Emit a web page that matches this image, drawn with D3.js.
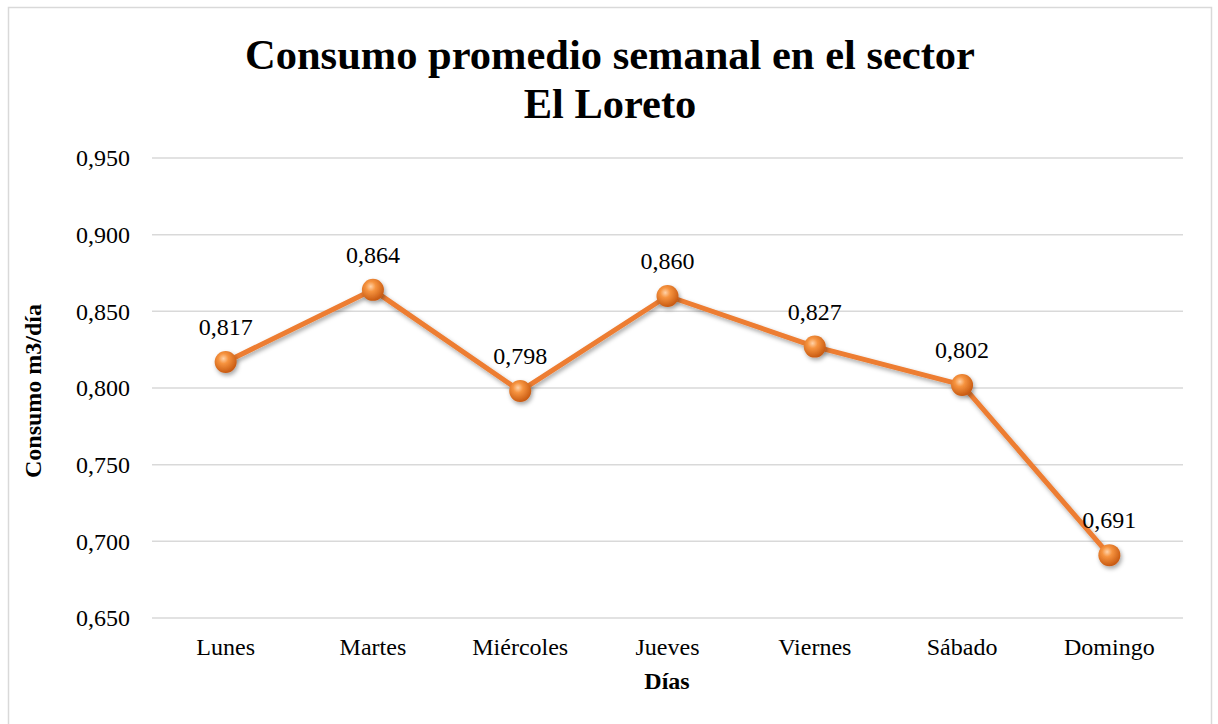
<!DOCTYPE html>
<html>
<head>
<meta charset="utf-8">
<script src="https://cdn.jsdelivr.net/npm/d3@7"></script>
<style>
html,body{margin:0;padding:0;background:#fff;}
svg{display:block;}
</style>
</head>
<body>
<script>
const categories = ["Lunes","Martes","Miércoles","Jueves","Viernes","Sábado","Domingo"];
const values = [0.817,0.864,0.798,0.860,0.827,0.802,0.691];
const yTicks = [0.650,0.700,0.750,0.800,0.850,0.900,0.950];
const titleLines = ["Consumo promedio semanal en el sector","El Loreto"];
const xTitle = "Días";
const yTitle = "Consumo m3/día";

const W = 1218, H = 724;
const fmt = v => d3.format(".3f")(v).replace(".", ",");
const font = "'Liberation Serif','Times New Roman',serif";

const svg = d3.select("body").append("svg").attr("width", W).attr("height", H);
const defs = svg.append("defs");
const grad = defs.append("radialGradient").attr("id","mk").attr("cx","40%").attr("cy","35%").attr("r","65%");
grad.append("stop").attr("offset","0%").attr("stop-color","#ffd2a8");
grad.append("stop").attr("offset","35%").attr("stop-color","#f6933f");
grad.append("stop").attr("offset","100%").attr("stop-color","#c85a12");
const sh = defs.append("filter").attr("id","sh").attr("x","-50%").attr("y","-50%").attr("width","200%").attr("height","200%");
sh.append("feDropShadow").attr("dx",1.5).attr("dy",2.5).attr("stdDeviation",2).attr("flood-color","#000").attr("flood-opacity",0.35);

svg.append("rect").attr("x",8.5).attr("y",7.5).attr("width",1203).attr("height",730)
  .attr("fill","#fff").attr("stroke","#d9d9d9").attr("stroke-width",1.5);

const pLeft = 152, pRight = 1183, pTop = 158, pBottom = 618;
const x = d3.scaleBand().domain(categories).range([pLeft,pRight]);
const y = d3.scaleLinear().domain([0.650,0.950]).range([pBottom,pTop]);

// gridlines
svg.append("g").selectAll("line").data(yTicks).join("line")
  .attr("x1",pLeft).attr("x2",pRight)
  .attr("y1",d=>y(d)).attr("y2",d=>y(d))
  .attr("stroke","#d9d9d9").attr("stroke-width",1.5);

// y axis
const yAxis = svg.append("g").attr("transform",`translate(${pLeft},0)`)
  .call(d3.axisLeft(y).tickValues(yTicks).tickFormat(fmt).tickSize(0).tickPadding(22));
yAxis.select(".domain").remove();
yAxis.selectAll("text").attr("font-family",font).attr("font-size",24).attr("fill","#000");

// x axis
const xAxis = svg.append("g").attr("transform",`translate(0,${pBottom})`)
  .call(d3.axisBottom(x).tickSize(0).tickPadding(20));
xAxis.select(".domain").remove();
xAxis.selectAll("text").attr("font-family",font).attr("font-size",24).attr("fill","#000");

// line
const line = d3.line().x((d,i)=>x(categories[i])+x.bandwidth()/2).y(d=>y(d));
svg.append("path").datum(values).attr("d",line).attr("fill","none")
  .attr("stroke","#ed7d31").attr("stroke-width",5).attr("stroke-linejoin","round")
  .attr("filter","url(#sh)");

// markers
svg.append("g").selectAll("circle").data(values).join("circle")
  .attr("cx",(d,i)=>x(categories[i])+x.bandwidth()/2).attr("cy",d=>y(d))
  .attr("r",11).attr("fill","url(#mk)").attr("filter","url(#sh)");

// labels
svg.append("g").selectAll("text").data(values).join("text")
  .attr("x",(d,i)=>x(categories[i])+x.bandwidth()/2).attr("y",d=>y(d)-27)
  .attr("text-anchor","middle").attr("font-family",font).attr("font-size",24)
  .text(d=>fmt(d));

// title
svg.append("text").attr("x",610).attr("y",69).attr("text-anchor","middle")
  .attr("font-family",font).attr("font-size",42.5).attr("font-weight","bold")
  .selectAll("tspan").data(titleLines).join("tspan")
  .attr("x",610).attr("dy",(d,i)=>i===0?0:49).text(d=>d);

// axis titles
svg.append("text").attr("x",667).attr("y",689).attr("text-anchor","middle")
  .attr("font-family",font).attr("font-size",24).attr("font-weight","bold").text(xTitle);
svg.append("text").attr("transform","translate(41,391) rotate(-90)").attr("text-anchor","middle")
  .attr("font-family",font).attr("font-size",24).attr("font-weight","bold").text(yTitle);
</script>
</body>
</html>
